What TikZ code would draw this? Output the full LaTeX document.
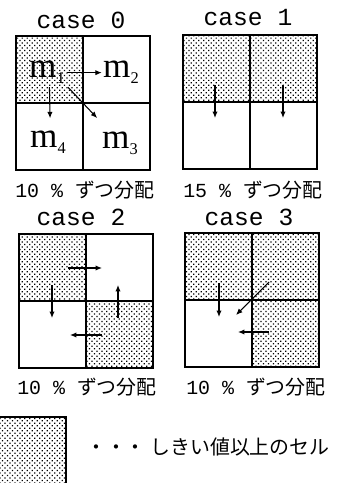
\documentclass[tikz,border=0pt]{standalone}
\usepackage{fontspec}
\setmainfont{Liberation Serif}
\setmonofont{Liberation Mono}
\newfontfamily\cjk{Noto Sans CJK JP}
\usetikzlibrary{positioning,arrows.meta,patterns.meta}
\tikzset{
    cell/.style={
        draw,
        line width=1.3pt,
        minimum width=2.01cm,
        minimum height=2.01cm,
        inner sep=0pt,
        outer sep=0pt
    },
    hot/.style={
        cell,
        pattern={Dots[radius=0.75pt, distance=3pt, angle=45]}
    },
    casetitle/.style={
        font=\fontsize{21}{21}\selectfont\ttfamily
    },
    share/.style={
        font=\fontsize{17}{17}\selectfont
    },
    mlabel/.style={
        inner sep=0pt,
        anchor=base,
        font=\fontsize{30}{30}\selectfont
    },
    move/.style={
        draw,
        -{Latex[length=5.5pt,width=4.5pt]},
        line width=0.9pt
    }
}
\newcommand{\msub}[1]{\raisebox{-5pt}{\fontsize{14}{14}\selectfont #1}}
\newcommand{\bunpai}[1]{{\ttfamily #1 \% }{\cjk ずつ分配}}

\begin{document}
\begin{tikzpicture}[x=0.03cm, y=-0.03cm]
        \useasboundingbox (0,0) rectangle (342,483);
        \clip (0,0) rectangle (342,483);

        % case 0
        \node[casetitle] (tzero) at (81,20) {case 0};
        \node[hot, anchor=north west] (zA) at (16,36) {};
        \node[cell, right=0pt of zA] (zB) {};
        \node[cell, below=0pt of zA] (zC) {};
        \node[cell, right=0pt of zC] (zD) {};
        \node[mlabel] (m1) at (47,78) {m\msub{1}};
        \node[mlabel] (m2) at (121,78) {m\msub{2}};
        \node[mlabel] (m4) at (48,148) {m\msub{4}};
        \node[mlabel] (m3) at (120,149) {m\msub{3}};
        \path[move, shorten <=2pt, shorten >=1pt] (m1) -- (m2);
        \path[move, shorten <=2.5pt, shorten >=11pt] ([xshift=2pt]m1.south) -- ([xshift=2pt]m4.north);
        \path[move, shorten <=3.6pt, shorten >=6pt] (m1.south east) -- ([yshift=7.7pt]m3.north west);
        \node[share] (szero) at (85,190) {\bunpai{10}};

        % case 1
        \node[casetitle] (tone) at (248,18) {case 1};
        \node[hot, anchor=north west] (oA) at (183,35) {};
        \node[hot, right=0pt of oA] (oB) {};
        \node[cell, below=0pt of oA] (oC) {};
        \node[cell, right=0pt of oC] (oD) {};
        \coordinate (oAs) at (215,85);
        \coordinate (oAe) at (215,118);
        \coordinate (oBs) at (283,85);
        \coordinate (oBe) at (283,118);
        \path[move] (oAs) -- (oAe);
        \path[move] (oBs) -- (oBe);
        \node[share] (sone) at (253,190) {\bunpai{15}};

        % case 2
        \node[casetitle] (ttwo) at (81,217) {case 2};
        \node[hot, anchor=north west] (wA) at (19,234) {};
        \node[cell, right=0pt of wA] (wB) {};
        \node[cell, below=0pt of wA] (wC) {};
        \node[hot, right=0pt of wC] (wD) {};
        \coordinate (wRs) at (68,268);
        \coordinate (wRe) at (102,268);
        \coordinate (wDs) at (52,285);
        \coordinate (wDe) at (52,318);
        \coordinate (wUs) at (118,318);
        \coordinate (wUe) at (118,285);
        \coordinate (wLs) at (102,335);
        \coordinate (wLe) at (70,335);
        \path[move] (wRs) -- (wRe);
        \path[move] (wDs) -- (wDe);
        \path[move] (wUs) -- (wUe);
        \path[move] (wLs) -- (wLe);
        \node[share] (stwo) at (87,387) {\bunpai{10}};

        % case 3
        \node[casetitle] (tthree) at (249,217) {case 3};
        \node[hot, anchor=north west] (hA) at (185,233) {};
        \node[hot, right=0pt of hA] (hB) {};
        \node[cell, below=0pt of hA] (hC) {};
        \node[hot, right=0pt of hC] (hD) {};
        \coordinate (hDs) at (219,283);
        \coordinate (hDe) at (219,317);
        \coordinate (hXs) at (269,282);
        \coordinate (hXe) at (236,315);
        \coordinate (hLs) at (269,332);
        \coordinate (hLe) at (238,332);
        \path[move] (hDs) -- (hDe);
        \path[move] (hXs) -- (hXe);
        \path[move] (hLs) -- (hLe);
        \node[share] (sthree) at (256,387) {\bunpai{10}};

        % legend
        \node[hot, anchor=north east, minimum width=2.4cm, minimum height=2.4cm] (legend) at (66,417) {};
        \node[share, anchor=west] (legendtext) at (82,447) {\cjk ・・・\ しきい値以上のセル};
    \end{tikzpicture}
\end{document}
